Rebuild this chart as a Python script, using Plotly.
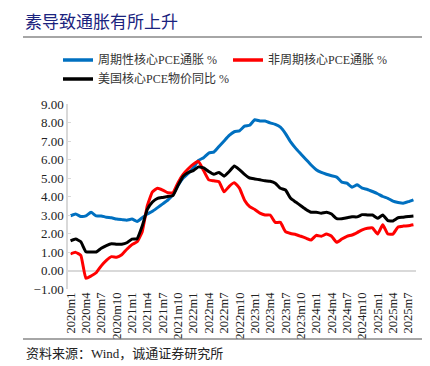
import plotly.graph_objects as go

months = [f"{y}m{m}" for y in range(2020, 2026) for m in range(1, 13)][:68]

cyclical = [2.95, 3.05, 2.92, 2.95, 3.15, 2.95, 2.95, 2.88, 2.85, 2.78, 2.75, 2.72,
            2.78, 2.65, 2.85, 3.05, 3.2, 3.4, 3.6, 3.8, 4.1, 4.6, 5.0, 5.25,
            5.55, 5.95, 6.1, 6.35, 6.4, 6.7, 7.0, 7.3, 7.5, 7.55, 7.8, 7.85,
            8.15, 8.08, 8.08, 7.98, 7.9, 7.75, 7.4, 6.95, 6.6, 6.3, 6.0, 5.7,
            5.45, 5.3, 5.2, 5.12, 5.05, 4.78, 4.72, 4.5, 4.63, 4.45, 4.38, 4.27,
            4.15, 4.0, 3.9, 3.75, 3.68, 3.64, 3.72, 3.82]

acyclical = [0.9, 0.98, 0.82, -0.42, -0.3, -0.12, 0.25, 0.55, 0.75, 0.72, 0.85, 1.15,
             1.4, 1.55, 2.1, 3.5, 4.25, 4.45, 4.35, 4.2, 4.2, 4.75, 5.2, 5.5,
             5.75, 5.9, 5.4, 4.9, 4.85, 4.8, 4.25, 4.55, 4.75, 4.45, 3.8, 3.45,
             3.3, 3.1, 3.0, 3.0, 2.6, 2.6, 2.1, 2.0, 1.95, 1.85, 1.75, 1.65,
             1.9, 1.85, 1.97, 1.85, 1.52, 1.7, 1.85, 1.92, 2.05, 2.2, 2.28, 2.3,
             1.97, 2.47, 1.97, 1.97, 2.35, 2.4, 2.42, 2.47]

core_pce = [1.6, 1.7, 1.55, 1.02, 1.0, 1.0, 1.2, 1.35, 1.45, 1.42, 1.42, 1.5,
            1.7, 1.72, 2.4, 3.3, 3.7, 3.9, 3.95, 4.0, 4.05, 4.6, 5.1, 5.3,
            5.4, 5.6, 5.55, 5.35, 5.2, 5.3, 5.1, 5.35, 5.65, 5.45, 5.2, 5.0,
            4.95, 4.9, 4.85, 4.82, 4.72, 4.45, 4.35, 3.9, 3.7, 3.5, 3.3, 3.15,
            3.15, 3.1, 3.15, 3.05, 2.8, 2.8, 2.85, 2.9, 2.9, 3.02, 3.0, 3.0,
            2.82, 3.0, 2.7, 2.68, 2.85, 2.88, 2.92, 2.95]

series_names = ["周期性核心PCE通胀 %", "非周期核心PCE通胀 %", "美国核心PCE物价同比 %"]
series_colors = ["#0070C0", "#FF0000", "#000000"]
tick_labels = months[::3]

title_text = "素导致通胀有所上升"
source_text = "资料来源：Wind，诚通证券研究所"

FONT = "Liberation Serif, Noto Sans CJK SC, serif"

fig = go.Figure()
for name, vals, col in zip(series_names, [cyclical, acyclical, core_pce], series_colors):
    fig.add_trace(go.Scatter(x=list(range(len(months))), y=vals, mode="lines", name=name,
                             showlegend=False,
                             line=dict(color=col, width=3, shape="spline", smoothing=0.4)))

# plot area pixel geometry
L, R, T, B = 60, 22, 96, 85
W, H = 430, 366
pw, ph = W - L - R, H - T - B

def px(x):
    return (x - L) / pw

def py(y):
    return (H - B - y) / ph

fig.update_layout(
    width=W, height=H,
    margin=dict(l=L, r=R, t=T, b=B),
    paper_bgcolor="white", plot_bgcolor="white",
    font=dict(family=FONT, size=12, color="#222"),
    showlegend=False,
    xaxis=dict(range=[-0.5, len(months) - 0.5], tickvals=list(range(0, len(months), 3)),
               ticktext=tick_labels, tickangle=-90, showgrid=False, zeroline=False,
               showline=False, ticks="", tickfont=dict(family=FONT, size=12.5, color="#222")),
    yaxis=dict(range=[-1, 9], dtick=1, tickformat=".2f", showgrid=False,
               zeroline=True, zerolinecolor="#d9d9d9", zerolinewidth=2,
               showline=True, linecolor="#d9d9d9", linewidth=1.5,
               ticks="inside", ticklen=3, tickcolor="#d9d9d9",
               tickfont=dict(family=FONT, size=13, color="#222")),
)

# manual legend
legend_pos = [(55, 52), (225, 52), (55, 71)]
for (lx, ly), name, col in zip(legend_pos, series_names, series_colors):
    fig.add_shape(type="line", xref="paper", yref="paper", x0=px(lx), x1=px(lx + 30),
                  y0=py(ly), y1=py(ly), line=dict(color=col, width=3.5))
    fig.add_annotation(text=name, xref="paper", yref="paper", x=px(lx + 33), y=py(ly),
                       xanchor="left", yanchor="middle", showarrow=False,
                       font=dict(family=FONT, size=12, color="#333"))

fig.add_annotation(text=title_text, xref="paper", yref="paper", x=px(15), y=py(13),
                   xanchor="left", yanchor="middle", showarrow=False,
                   font=dict(family="Noto Sans CJK SC", size=17, color="#1A237E"))
fig.add_shape(type="line", xref="paper", yref="paper", x0=px(15), x1=px(425),
              y0=py(29), y1=py(29), line=dict(color="#888", width=1.5))
fig.add_shape(type="line", xref="paper", yref="paper", x0=px(15), x1=px(425),
              y0=py(331), y1=py(331), line=dict(color="#888", width=1.5))
fig.add_annotation(text=source_text, xref="paper", yref="paper", x=px(16), y=py(345),
                   xanchor="left", yanchor="middle", showarrow=False,
                   font=dict(family=FONT, size=13, color="#222"))

fig.write_html("out.html")
